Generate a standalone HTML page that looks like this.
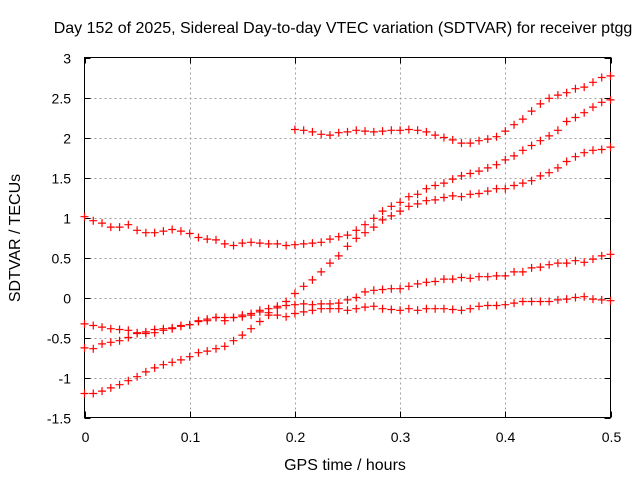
<!DOCTYPE html>
<html><head><meta charset="utf-8"><style>
body{margin:0;background:#fff;}
svg{display:block;font-family:"Liberation Sans",sans-serif;}
</style></head><body>
<svg id="chart" width="640" height="480">
<rect width="640" height="480" fill="#fff"/>
<text x="343" y="33" text-anchor="middle" font-size="16">Day 152 of 2025, Sidereal Day-to-day VTEC variation (SDTVAR) for receiver ptgg</text>
<text x="345" y="470" text-anchor="middle" font-size="16">GPS time / hours</text>
<text transform="translate(20,238) rotate(-90)" text-anchor="middle" font-size="16">SDTVAR / TECUs</text>
<g id="grid"></g><g id="axes"></g><g id="marks"></g>
</svg>
<script>
const xTicks=[0,0.1,0.2,0.3,0.4,0.5];
const xTickLabels=["0","0.1","0.2","0.3","0.4","0.5"];
const yTicks=[-1.5,-1,-0.5,0,0.5,1,1.5,2,2.5,3];
const yTickLabels=["-1.5","-1","-0.5","0","0.5","1","1.5","2","2.5","3"];
const stepHours=0.5/60;
const seriesA=[1.01,0.96,0.93,0.88,0.88,0.91,0.84,0.81,0.81,0.83,0.85,0.83,0.80,0.75,0.73,0.72,0.67,0.65,0.68,0.69,0.68,0.67,0.67,0.65,0.66,0.67,0.68,0.69,0.73,0.76,0.78,
0.84,0.91,0.99,1.08,1.14,1.19,1.26,1.29,1.36,1.40,1.43,1.48,1.52,1.55,1.58,1.62,1.66,1.72,1.77,1.84,1.90,1.96,2.02,2.09,2.20,2.25,2.31,2.38,2.44,2.47];
const seriesC=[-1.20,-1.20,-1.17,-1.13,-1.09,-1.04,-0.99,-0.93,-0.88,-0.84,-0.81,-0.78,-0.74,-0.69,-0.67,-0.64,-0.61,-0.54,-0.47,-0.39,-0.30,-0.22,-0.13,-0.05,0.05,0.14,0.22,0.32,0.43,0.52,0.64,
0.74,0.81,0.88,0.97,1.02,1.08,1.14,1.17,1.21,1.22,1.25,1.27,1.26,1.29,1.30,1.33,1.36,1.36,1.40,1.43,1.46,1.52,1.56,1.62,1.70,1.76,1.81,1.84,1.85,1.88];
const seriesD=[-0.33,-0.35,-0.37,-0.39,-0.40,-0.41,-0.44,-0.43,-0.40,-0.39,-0.38,-0.35,-0.34,-0.29,-0.27,-0.25,-0.25,-0.25,-0.22,-0.20,-0.16,-0.14,-0.11,-0.10,-0.09,-0.08,-0.09,-0.08,-0.08,-0.07,-0.03,
0.00,0.07,0.09,0.10,0.11,0.11,0.14,0.17,0.19,0.20,0.23,0.23,0.25,0.24,0.26,0.26,0.27,0.27,0.32,0.32,0.37,0.38,0.41,0.43,0.43,0.46,0.44,0.48,0.52,0.54];
const seriesE=[-0.63,-0.64,-0.58,-0.56,-0.54,-0.50,-0.45,-0.45,-0.44,-0.41,-0.39,-0.36,-0.34,-0.30,-0.29,-0.25,-0.29,-0.25,-0.24,-0.22,-0.18,-0.19,-0.22,-0.24,-0.20,-0.18,-0.16,-0.14,-0.14,-0.14,-0.16,
-0.14,-0.12,-0.11,-0.14,-0.15,-0.16,-0.14,-0.16,-0.14,-0.14,-0.14,-0.15,-0.16,-0.14,-0.11,-0.10,-0.10,-0.09,-0.07,-0.05,-0.05,-0.05,-0.05,-0.03,-0.02,0.00,0.01,-0.02,-0.03,-0.04];
const seriesTStart=24;
const seriesT=[2.10,2.09,2.07,2.04,2.03,2.06,2.07,2.09,2.08,2.07,2.08,2.09,2.09,2.10,2.09,2.07,2.03,2.00,1.97,1.93,1.93,1.96,1.98,2.01,2.08,2.16,2.23,2.33,2.42,2.49,2.53,2.56,2.61,2.63,2.69,2.75,2.77];

const X0=84.5,X1=610.5,Y0=417.5,Y1=57.5;
const xs=v=>X0+(v-0)/(0.5)*(X1-X0);
const ys=v=>Y0-(v+1.5)/4.5*(Y0-Y1);
const NS="http://www.w3.org/2000/svg";
function mk(t,a,parent){const e=document.createElementNS(NS,t);for(const k in a)e.setAttribute(k,a[k]);parent.appendChild(e);return e;}
const grid=document.getElementById('grid'),axes=document.getElementById('axes'),marks=document.getElementById('marks');
xTicks.forEach((t,i)=>{
 const x=Math.round(xs(t))+0.5;
 if(i>0&&i<xTicks.length-1){const g=mk('line',{x1:x,x2:x,y1:Y1,y2:Y0,stroke:'#a0a0a0','stroke-dasharray':'2,3'},grid);
 
 }
 const tk=mk('path',{d:`M${x},${Y0}v-6M${x},${Y1}v6`,stroke:'#000'},axes);
 
 
 const lb=mk('text',{x:x,y:442,'text-anchor':'middle','font-size':14},axes);lb.textContent=xTickLabels[i];
 
 
});
yTicks.forEach((t,i)=>{
 const y=Math.round(ys(t))+0.5;
 if(i>0&&i<yTicks.length-1){const g=mk('line',{x1:X0,x2:X1,y1:y,y2:y,stroke:'#a0a0a0','stroke-dasharray':'2,3'},grid);
 
 }
 const tk=mk('path',{d:`M${X0},${y}h6M${X1},${y}h-6`,stroke:'#000'},axes);
 
 
 const lb=mk('text',{x:71,y:y+5,'text-anchor':'end','font-size':14},axes);lb.textContent=yTickLabels[i];
 
 
});
const frame=mk('rect',{x:X0,y:Y1,width:X1-X0,height:Y0-Y1,fill:'none',stroke:'#000'},axes);


function drawSeries(vals,start,name){
 const g=mk('g',{stroke:'#ff0000','stroke-width':1.2},marks);
 
 
 vals.forEach((v,i)=>{
  const x=xs((start+i)*stepHours),y=ys(v);
  const p=mk('path',{d:`M${x-4},${y}h8M${x},${y-4}v8`},g);
  
  
 });
}
drawSeries(seriesA,0,'series-a');
drawSeries(seriesC,0,'series-c');
drawSeries(seriesD,0,'series-d');
drawSeries(seriesE,0,'series-e');
drawSeries(seriesT,seriesTStart,'series-t');
</script>
</body></html>
